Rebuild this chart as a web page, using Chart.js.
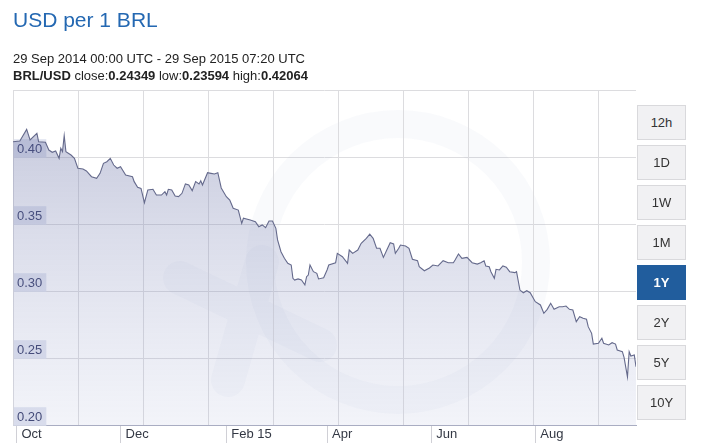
<!DOCTYPE html>
<html>
<head>
<meta charset="utf-8">
<script src="https://cdn.jsdelivr.net/npm/chart.js@4/dist/chart.umd.min.js"></script>
<style>
  body { margin: 0; background: #fff; font-family: "Liberation Sans", Arial, sans-serif; }
  #wrap { position: relative; width: 708px; height: 448px; overflow: hidden; }
  #wrap canvas { position: absolute; left: 0; top: 0; }
  .title { position: absolute; left: 13px; top: 9px; font-size: 21px; line-height: 21px; color: #2468b2; white-space: nowrap; }
  .sub { position: absolute; left: 13px; font-size: 13px; line-height: 17px; color: #222; white-space: nowrap; }
  .btn { position: absolute; left: 637px; width: 47px; height: 33px; line-height: 33px; text-align: center;
         background: #f1f1f3; border: 1px solid #d9d9dc; font-size: 13px; color: #333; }
  .btn.on { background: #215d9d; border-color: #215d9d; color: #fff; font-weight: bold; }
</style>
</head>
<body>
<div id="wrap">
  <canvas id="chart" width="708" height="448"></canvas>
  <div class="title">USD per 1 BRL</div>
  <div class="sub" style="top:50px">29 Sep 2014 00:00 UTC - 29 Sep 2015 07:20 UTC</div>
  <div class="sub" style="top:67px"><b>BRL/USD</b> close:<b>0.24349</b> low:<b>0.23594</b> high:<b>0.42064</b></div>
</div>
<script>
// days since 29 Sep 2014
const days = [
  0, 4, 8, 10, 14, 15, 19, 21, 23, 25, 27, 28, 29, 30, 31, 34, 36, 38, 41, 43,
  46, 49, 51, 53, 55, 57, 59, 61, 63, 66, 70, 71, 73, 75, 77, 79, 82, 84, 87, 89,
  90, 91, 93, 95, 97, 99, 101, 103, 105, 107, 109, 110, 111, 114, 116, 118, 120, 122, 125, 127,
  129, 132, 134, 135, 139, 142, 144, 146, 148, 150, 152, 154, 155, 157, 159, 161, 163, 164, 165, 167,
  169, 171, 172, 173, 174, 176, 178, 179, 182, 184, 185, 189, 190, 193, 196, 197, 199, 202, 204, 207,
  209, 211, 213, 215, 217, 219, 221, 223, 224, 226, 227, 230, 232, 234, 237, 238, 241, 244, 246, 249,
  252, 255, 258, 259, 261, 263, 266, 269, 272, 274, 276, 277, 279, 280, 282, 283, 285, 287, 289, 291,
  294, 295, 297, 299, 301, 303, 306, 309, 311, 313, 315, 317, 320, 322, 324, 326, 328, 330, 332, 334,
  336, 337, 339, 340, 343, 345, 346, 349, 351, 353, 354, 357, 358, 360, 361, 362, 364, 365
];
// USD per 1 BRL
const rates = [
  0.4114, 0.4119, 0.4206, 0.4127, 0.4177, 0.4114, 0.4110, 0.4052, 0.4035, 0.4045, 0.3990, 0.4065, 0.4040, 0.4159, 0.4040, 0.4015, 0.3990, 0.3916, 0.3910, 0.3896,
  0.3853, 0.3841, 0.3878, 0.3953, 0.3965, 0.3990, 0.3940, 0.3916, 0.3928, 0.3866, 0.3853, 0.3816, 0.3774, 0.3766, 0.3659, 0.3754, 0.3759, 0.3716, 0.3716, 0.3741,
  0.3716, 0.3759, 0.3754, 0.3709, 0.3704, 0.3729, 0.3799, 0.3791, 0.3749, 0.3816, 0.3799, 0.3823, 0.3791, 0.3883, 0.3878, 0.3873, 0.3883, 0.3769, 0.3704, 0.3679,
  0.3617, 0.3604, 0.3505, 0.3543, 0.3530, 0.3517, 0.3480, 0.3493, 0.3472, 0.3522, 0.3522, 0.3468, 0.3381, 0.3293, 0.3244, 0.3207, 0.3194, 0.3095, 0.3082, 0.3090,
  0.3082, 0.3045, 0.3107, 0.3119, 0.3194, 0.3144, 0.3132, 0.3090, 0.3099, 0.3157, 0.3194, 0.3211, 0.3281, 0.3256, 0.3207, 0.3306, 0.3281, 0.3306, 0.3356, 0.3393,
  0.3425, 0.3393, 0.3319, 0.3319, 0.3251, 0.3306, 0.3360, 0.3351, 0.3281, 0.3319, 0.3343, 0.3336, 0.3319, 0.3237, 0.3226, 0.3181, 0.3151, 0.3172, 0.3194, 0.3187,
  0.3226, 0.3211, 0.3211, 0.3231, 0.3276, 0.3244, 0.3251, 0.3211, 0.3201, 0.3211, 0.3226, 0.3187, 0.3181, 0.3144, 0.3095, 0.3162, 0.3157, 0.3187, 0.3177, 0.3144,
  0.3137, 0.3144, 0.3007, 0.2987, 0.3002, 0.2987, 0.2920, 0.2896, 0.2834, 0.2863, 0.2908, 0.2863, 0.2883, 0.2883, 0.2888, 0.2863, 0.2858, 0.2771, 0.2808, 0.2796,
  0.2789, 0.2734, 0.2684, 0.2604, 0.2610, 0.2647, 0.2610, 0.2597, 0.2614, 0.2604, 0.2560, 0.2547, 0.2505, 0.2359, 0.2547, 0.2515, 0.2522, 0.2435
];
const tickDays   = [2, 63, 125, 184, 245, 306];
const tickLabels = ['Oct', 'Dec', 'Feb 15', 'Apr', 'Jun', 'Aug'];
const yMin = 0.20, yMax = 0.45, yStep = 0.05;
const ranges = ['12h', '1D', '1W', '1M', '1Y', '2Y', '5Y', '10Y'];
const activeRange = '1Y';

// range buttons on the right
const wrap = document.getElementById('wrap');
ranges.forEach((r, i) => {
  const b = document.createElement('div');
  b.className = 'btn' + (r === activeRange ? ' on' : '');
  b.style.top = (105 + i * 40) + 'px';
  b.textContent = r;
  wrap.appendChild(b);
});

// faint logo + evenly spaced vertical grid, behind the area
const backdrop = {
  id: 'backdrop',
  beforeDatasetsDraw(chart) {
    const { ctx, chartArea: a, scales: { x } } = chart;
    ctx.save();
    ctx.beginPath();
    ctx.rect(a.left, a.top, a.right - a.left, a.bottom - a.top);
    ctx.clip();
    // logo ring
    ctx.strokeStyle = 'rgba(95,105,160,0.035)';
    ctx.lineWidth = 28;
    ctx.beginPath();
    ctx.arc(398, 262, 138, 0, Math.PI * 2);
    ctx.stroke();
    // logo x
    ctx.lineWidth = 34;
    ctx.lineCap = 'round';
    ctx.beginPath();
    ctx.moveTo(180, 278); ctx.lineTo(320, 345);
    ctx.moveTo(262, 262); ctx.lineTo(228, 380);
    ctx.stroke();
    // vertical grid every 65px
    ctx.strokeStyle = '#dcdcdf';
    ctx.lineWidth = 1;
    const step = 365 * 65 / 623;
    for (let d = 0; d < 365; d += step) {
      const px = Math.round(x.getPixelForValue(d)) + 0.5;
      ctx.beginPath();
      ctx.moveTo(px, a.top);
      ctx.lineTo(px, a.bottom);
      ctx.stroke();
    }
    ctx.beginPath();
    ctx.moveTo(a.right + 0.5, a.top);
    ctx.lineTo(a.right + 0.5, a.bottom + 14);
    ctx.stroke();
    ctx.restore();
  }
};

new Chart(document.getElementById('chart'), {
  type: 'line',
  data: {
    labels: days,
    datasets: [{
      data: days.map((d, i) => ({ x: d, y: rates[i] })),
      borderColor: '#656a8c',
      borderWidth: 1.1,
      pointRadius: 0,
      tension: 0,
      fill: 'start',
      backgroundColor: (c) => {
        const a = c.chart.chartArea;
        if (!a) return 'rgba(120,128,175,0.3)';
        const g = c.chart.ctx.createLinearGradient(0, a.top, 0, a.bottom);
        g.addColorStop(0, 'rgba(100,108,160,0.40)');
        g.addColorStop(1, 'rgba(170,178,215,0.15)');
        return g;
      }
    }]
  },
  options: {
    responsive: false,
    animation: false,
    layout: { padding: { left: 13, top: 90, right: 72, bottom: 0 } },
    plugins: { legend: { display: false }, tooltip: { enabled: false } },
    scales: {
      x: {
        type: 'linear',
        min: 0,
        max: 365,
        afterBuildTicks: (s) => { s.ticks = tickDays.map(v => ({ value: v })); },
        afterFit: (s) => { s.height = 23; },
        border: { display: true, color: '#a9adc2' },
        grid: { drawOnChartArea: false, drawTicks: true, tickLength: 18, color: '#d0d0d6' },
        ticks: {
          align: 'start',
          labelOffset: 5,
          padding: -16,
          autoSkip: false,
          maxRotation: 0,
          color: '#333844',
          font: { family: '"Liberation Sans", Arial, sans-serif', size: 13 },
          callback: (v, i) => tickLabels[i]
        }
      },
      y: {
        min: yMin,
        max: yMax,
        afterFit: (s) => { s.width = 0; },
        border: { display: false },
        grid: { drawTicks: false, color: '#dcdcdf' },
        ticks: {
          stepSize: yStep,
          mirror: true,
          padding: 4,
          labelOffset: -8,
          color: (c) => c.tick && c.tick.value > yMax - 0.001 ? 'transparent' : '#2f3666',
          showLabelBackdrop: true,
          backdropColor: (c) => c.tick && c.tick.value > yMax - 0.001 ? 'transparent' : 'rgba(222,225,238,0.9)',
          backdropPadding: { top: 2, bottom: 1, left: 4, right: 4 },
          font: { family: '"Liberation Sans", Arial, sans-serif', size: 13 },
          callback: (v) => v.toFixed(2)
        }
      }
    }
  },
  plugins: [backdrop]
});
</script>
</body>
</html>
